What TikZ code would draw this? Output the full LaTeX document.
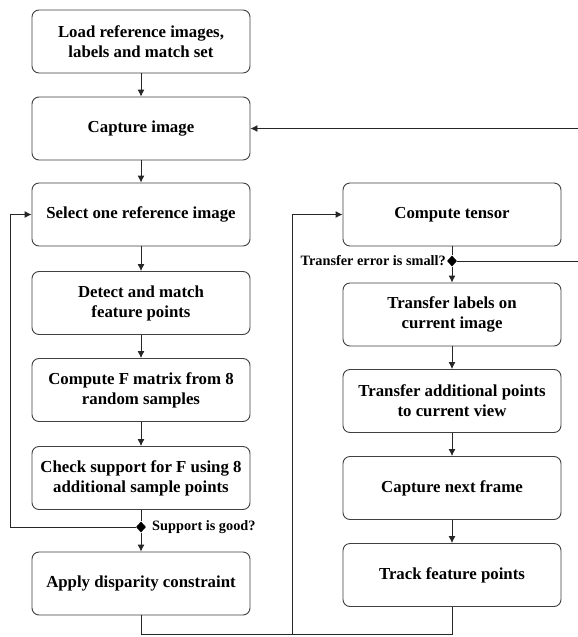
\documentclass[tikz,border=0pt]{standalone}
\usepackage{fontspec}
\setmainfont{Liberation Serif}
\usetikzlibrary{arrows.meta,shapes.geometric}
\begin{document}
\begin{tikzpicture}[x=1pt,y=-1pt,
  box/.style={draw=black!75, line width=0.9pt, rounded corners=7pt, minimum width=218pt, minimum height=63pt, align=center, font=\bfseries\fontsize{16.8}{20}\selectfont, inner sep=0pt},
  conn/.style={draw=black!85, line width=0.9pt},
  arr/.style={conn, -{Latex[length=7pt,width=7pt]}},
  dec/.style={diamond, fill=black, inner sep=0pt, minimum width=10pt, minimum height=11pt},
  lbl/.style={font=\bfseries\fontsize{14.3}{16}\selectfont, inner sep=0pt}]
\useasboundingbox[fill=white] (0,0) rectangle (578,637);
% left column
\node[box] (b1) at (141,41.5) {Load reference images,\\labels and match set};
\node[box] (b2) at (141,128.5) {Capture image};
\node[box] (b3) at (141,214.5) {Select one reference image};
\node[box] (b4) at (141,303) {Detect and match\\feature points};
\node[box] (b5) at (141,390) {Compute F matrix from 8\\random samples};
\node[box] (b6) at (141,478) {Check support for F using 8\\additional sample points};
\node[dec] (d1) at (141,527) {};
\node[box] (b7) at (141,583.5) {Apply disparity constraint};
% right column
\node[box] (c1) at (452,214.5) {Compute tensor};
\node[dec] (d2) at (452,261) {};
\node[box] (c2) at (452,314.5) {Transfer labels on\\current image};
\node[box] (c3) at (452,401) {Transfer additional points\\to current view};
\node[box] (c4) at (452,488) {Capture next frame};
\node[box] (c5) at (452,575) {Track feature points};
% labels
\node[lbl, anchor=west] (l1) at (152,527) {Support is good?};
\node[lbl, anchor=east] (l2) at (446,261) {Transfer error is small?};
% helper coordinates
\coordinate (rl) at (580,261);
\coordinate (rt) at (580,128.5);
\coordinate (ll) at (10,527);
\coordinate (lt) at (10,214.5);
\coordinate (m1) at (141,634);
\coordinate (m2) at (292,634);
\coordinate (m3) at (452,634);
\coordinate (mt) at (292,214.5);
% connectors
\draw[arr] (b1.south) -- (b2.north);
\draw[arr] (b2.south) -- (b3.north);
\draw[arr] (b3.south) -- (b4.north);
\draw[arr] (b4.south) -- (b5.north);
\draw[arr] (b5.south) -- (b6.north);
\draw[conn] (b6.south) -- (d1.north);
\draw[arr] (d1.south) -- (b7.north);
\draw[arr] (d1.west) -- (ll) -- (lt) -- (b3.west);
\draw[arr] (b7.south) -- (m1) -- (m2) -- (mt) -- (c1.west);
\draw[conn] (c5.south) -- (m3) -- (m2);
\draw[conn] (c1.south) -- (d2.north);
\draw[arr] (d2.south) -- (c2.north);
\draw[arr] (c2.south) -- (c3.north);
\draw[arr] (c3.south) -- (c4.north);
\draw[arr] (c4.south) -- (c5.north);
\draw[arr] (d2.east) -- (rl) -- (rt) -- (b2.east);
\end{tikzpicture}
\end{document}
